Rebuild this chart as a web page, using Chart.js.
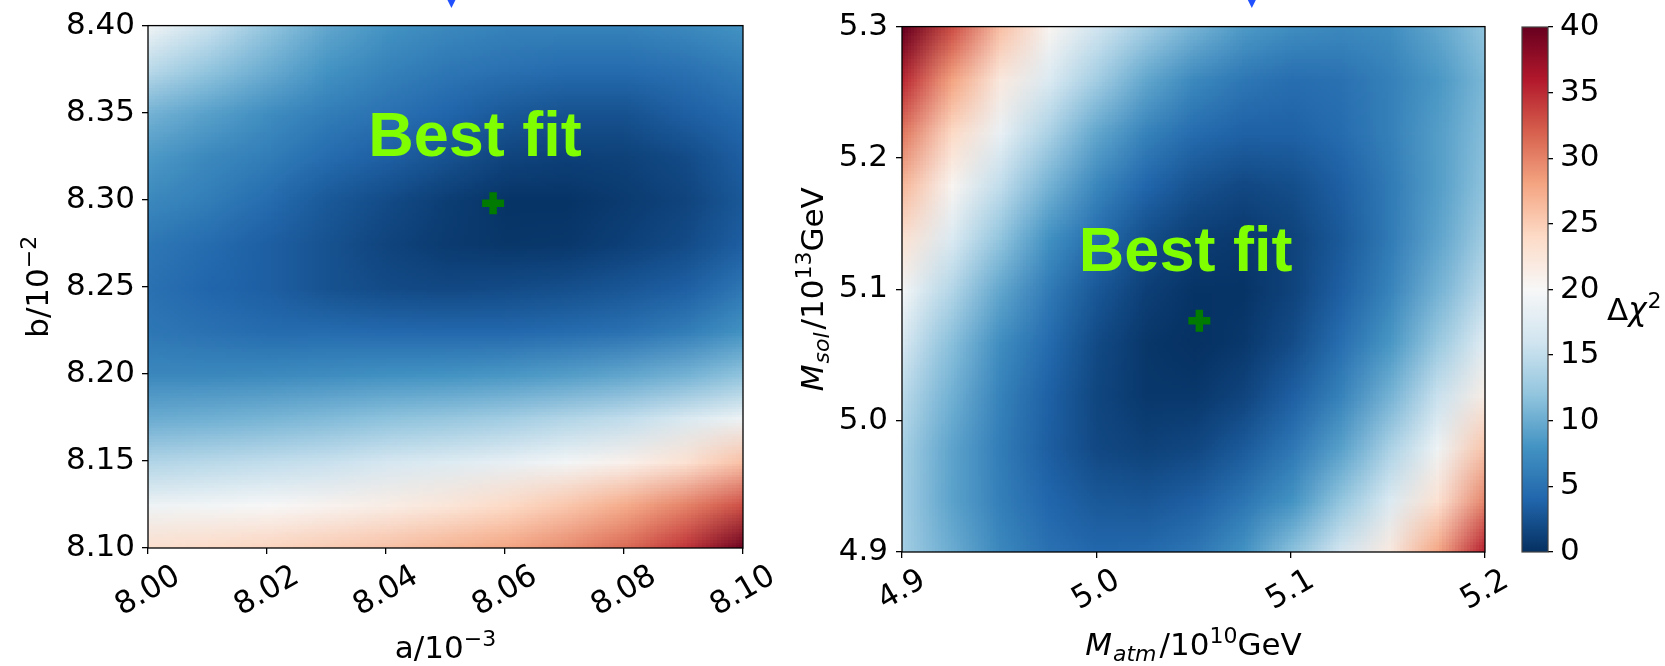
<!DOCTYPE html>
<html><head><meta charset="utf-8">
<script src="https://cdn.jsdelivr.net/npm/chart.js@4.4.1/dist/chart.umd.min.js"></script>
<style>
html,body{margin:0;padding:0;background:#fff;width:1665px;height:666px;overflow:hidden;}
canvas{position:absolute;left:0;top:0;}
</style></head><body>
<canvas id="c1" width="1665" height="666"></canvas>
<canvas id="c2" width="1665" height="666"></canvas>
<canvas id="c3" width="1665" height="666"></canvas>
<script>
// ---------------- data ----------------
// Left panel: Δχ² over a/10^-3 (columns) and b/10^-2 (rows, top to bottom)
const leftA = [8.00, 8.01, 8.02, 8.03, 8.04, 8.05, 8.06, 8.07, 8.08, 8.09, 8.10];
const leftB = [8.400, 8.375, 8.350, 8.325, 8.300, 8.275, 8.250, 8.225, 8.200, 8.175, 8.150, 8.125, 8.100];
const leftChi2 = [
  [19, 15.5, 12, 9.5, 8, 7, 6.5, 6.5, 6.5, 7, 8],
  [14.5, 12, 10, 8, 6.5, 5.5, 5, 4.5, 4.5, 5, 6],
  [10.5, 9, 7.5, 6, 5, 4, 3, 2.5, 2.5, 3.5, 4.5],
  [8.5, 7, 6, 4.5, 3.5, 2.5, 1.5, 1.2, 1.3, 2, 3.5],
  [7, 6, 4.5, 3, 2, 1, 0.3, 0.3, 0.8, 1.5, 3],
  [5.5, 4.5, 3.5, 2.5, 1.5, 0.8, 0.5, 0.6, 1.2, 2, 3.5],
  [5, 4, 3.5, 2.5, 2, 1.8, 2, 2.3, 2.8, 3.5, 5.5],
  [5.5, 5, 4.5, 4.5, 4.3, 4.2, 4.2, 4.5, 5, 6, 8],
  [7, 7, 7.2, 7.5, 7.8, 8, 8.3, 8.8, 9.5, 10.5, 12],
  [10, 10.3, 10.7, 11.2, 11.8, 12.3, 13, 14, 15, 16.8, 19],
  [14, 14.5, 15, 15.5, 16.5, 17.3, 18.3, 19.5, 21, 23, 26],
  [19, 19.5, 20, 20.7, 21.5, 22.5, 24, 25.5, 27.5, 30, 33],
  [23.5, 24, 24.5, 25.2, 26, 27, 28, 29.5, 31.5, 34.5, 40]
];
const leftBestFit = [8.058, 8.298];
const leftXTicks = [8.00, 8.02, 8.04, 8.06, 8.08, 8.10];
const leftYTicks = [8.10, 8.15, 8.20, 8.25, 8.30, 8.35, 8.40];
const leftTopMark = [8.051];

// Right panel: Δχ² over M_atm/10^10 GeV (columns) and M_sol/10^13 GeV (rows, top to bottom)
const rightX = [4.900, 4.925, 4.950, 4.975, 5.000, 5.025, 5.050, 5.075, 5.100, 5.125, 5.150, 5.175, 5.200];
const rightY = [5.30, 5.26, 5.22, 5.18, 5.14, 5.10, 5.06, 5.02, 4.98, 4.94, 4.90];
const rightChi2 = [
  [42, 33, 26, 20.5, 16, 13, 10.5, 8.5, 7.5, 7, 7.5, 9.5, 12],
  [35, 28, 22, 17, 13, 9.5, 7, 5.5, 4.7, 5, 6.3, 8.3, 11],
  [30.5, 24, 18.5, 13.5, 9.5, 6.5, 4.5, 3.7, 3.7, 4.5, 6.3, 8.8, 11.5],
  [26.5, 20.5, 15, 10.5, 6.8, 4, 2.5, 1.8, 2.2, 3.5, 5.8, 8.8, 12],
  [23, 17, 12, 7.8, 4.5, 2.2, 1, 0.7, 1.4, 3, 5.8, 9.3, 13.2],
  [19.5, 14, 9.5, 5.8, 2.9, 1.1, 0.3, 0.3, 1.4, 3.5, 6.6, 10.5, 15],
  [16.5, 11.5, 7.5, 4.4, 1.9, 0.5, 0.1, 0.6, 2.1, 4.7, 8.2, 12.5, 18],
  [14.5, 10.3, 6.5, 3.6, 1.6, 0.6, 0.6, 1.5, 3.5, 6.5, 10.5, 15.5, 21.5],
  [13.2, 9.3, 6, 3.4, 1.8, 1.3, 1.7, 3.1, 5.5, 9, 13.5, 19, 25.8],
  [13, 9.2, 6.2, 4, 3, 2.8, 3.5, 5.3, 8, 12, 17, 23, 30],
  [13, 10, 7, 5, 4.2, 4.4, 5.5, 8, 11.8, 16.5, 22, 28, 36]
];
const rightBestFit = [5.053, 5.076];
const rightXTicks = [4.9, 5.0, 5.1, 5.2];
const rightYTicks = [4.9, 5.0, 5.1, 5.2, 5.3];
const rightTopMark = [5.08];

// Colour bar
const cbTicks = [0, 5, 10, 15, 20, 25, 30, 35, 40];

// ---------------- colormap (RdBu_r) ----------------
const RDBU_R = [[5,48,97],[33,102,172],[67,147,195],[146,197,222],[209,229,240],[247,247,247],[253,219,199],[244,165,130],[214,96,77],[178,24,43],[103,0,31]];
const VMIN = cbTicks[0], VMAX = cbTicks[cbTicks.length - 1];
function cmapRGB(v) {
  const t = Math.max(0, Math.min(1, (v - VMIN) / (VMAX - VMIN))) * 10;
  const i = Math.min(9, Math.floor(t)), f = t - i;
  const a = RDBU_R[i], b = RDBU_R[i + 1];
  return [a[0] + (b[0] - a[0]) * f, a[1] + (b[1] - a[1]) * f, a[2] + (b[2] - a[2]) * f];
}

// ---------------- helpers ----------------
const FAM = "'DejaVu Sans'";
function fnt(size, italic, bold, fam) {
  return (italic ? 'italic ' : '') + (bold ? 'bold ' : '') + size + 'px ' + (fam || FAM);
}
function drawRich(ctx, segs, x, y, rot, align) {
  ctx.save();
  ctx.translate(x, y);
  ctx.rotate(rot);
  ctx.fillStyle = '#000';
  ctx.textAlign = 'left';
  ctx.textBaseline = 'alphabetic';
  const w = segs.map(s => { ctx.font = fnt(s.s, s.it); return ctx.measureText(s.t).width + (s.gap || 0); });
  const total = w.reduce((p, q) => p + q, 0);
  let cx = align === 'center' ? -total / 2 : 0;
  segs.forEach((s, i) => { ctx.font = fnt(s.s, s.it); ctx.fillText(s.t, cx, s.dy || 0); cx += w[i]; });
  ctx.restore();
}

function heatPlugin(xs, ys, z) {
  return {
    id: 'heat',
    beforeDatasetsDraw(chart) {
      const sx = chart.scales.x, sy = chart.scales.y, ca = chart.chartArea, ctx = chart.ctx;
      const nx = xs.length, ny = ys.length;
      const off = document.createElement('canvas');
      off.width = nx; off.height = ny;
      const o = off.getContext('2d');
      const img = o.createImageData(nx, ny);
      for (let j = 0; j < ny; j++) for (let i = 0; i < nx; i++) {
        const c = cmapRGB(z[j][i]); const k = (j * nx + i) * 4;
        img.data[k] = Math.round(c[0]); img.data[k + 1] = Math.round(c[1]); img.data[k + 2] = Math.round(c[2]); img.data[k + 3] = 255;
      }
      o.putImageData(img, 0, 0);
      const x0 = sx.getPixelForValue(xs[0]), x1 = sx.getPixelForValue(xs[nx - 1]);
      const y0 = sy.getPixelForValue(ys[0]), y1 = sy.getPixelForValue(ys[ny - 1]);
      const cw = (x1 - x0) / (nx - 1), chh = (y1 - y0) / (ny - 1);
      ctx.save();
      ctx.beginPath(); ctx.rect(ca.left, ca.top, ca.width, ca.height); ctx.clip();
      ctx.imageSmoothingEnabled = true;
      ctx.imageSmoothingQuality = 'low';
      ctx.drawImage(off, x0 - cw / 2, y0 - chh / 2, cw * nx, chh * ny);
      ctx.restore();
    }
  };
}

function decorPlugin(cfg) {
  return {
    id: 'decor',
    afterDraw(chart) {
      const ctx = chart.ctx, sx = chart.scales.x, sy = chart.scales.y, ca = chart.chartArea;
      // frame
      ctx.save();
      ctx.strokeStyle = '#000'; ctx.lineWidth = 1.3;
      ctx.strokeRect(ca.left, ca.top, ca.width, ca.height);
      ctx.restore();
      // rotated x tick labels, centred on their ticks
      ctx.save();
      ctx.fillStyle = '#000'; ctx.font = fnt(31);
      ctx.textAlign = 'center'; ctx.textBaseline = 'middle';
      sx.ticks.forEach(t => {
        const px = sx.getPixelForValue(t.value);
        ctx.save(); ctx.translate(px, ca.bottom + cfg.xLabelOffset); ctx.rotate(-Math.PI / 6);
        ctx.fillText(cfg.xFmt(t.value), 0, 0); ctx.restore();
      });
      ctx.restore();
      // axis titles
      drawRich(ctx, cfg.xTitle, (ca.left + ca.right) / 2, cfg.xTitleBaseline, 0, 'center');
      drawRich(ctx, cfg.yTitle, cfg.yTitleBaseline, (ca.top + ca.bottom) / 2, -Math.PI / 2, 'center');
      // "Best fit" annotation
      ctx.save();
      ctx.font = "bold 63px 'Liberation Sans'"; ctx.fillStyle = '#7fff00';
      ctx.textAlign = 'left'; ctx.textBaseline = 'alphabetic';
      ctx.fillText('Best fit', sx.getPixelForValue(cfg.labelAt[0]), sy.getPixelForValue(cfg.labelAt[1]));
      ctx.restore();
      // small blue marker above the frame
      ctx.save();
      ctx.fillStyle = '#2050ff';
      cfg.topMark.forEach(v => {
        const px = sx.getPixelForValue(v);
        ctx.beginPath(); ctx.moveTo(px - 4.5, -1); ctx.lineTo(px + 4.5, -1); ctx.lineTo(px, 8); ctx.closePath(); ctx.fill();
      });
      ctx.restore();
    }
  };
}

function axis(ticksArr, fmt, showLabels, pad, fitFn) {
  return {
    type: 'linear',
    min: ticksArr[0], max: ticksArr[ticksArr.length - 1],
    afterBuildTicks: s => { s.ticks = ticksArr.map(v => ({ value: v })); },
    afterFit: fitFn,
    ticks: { display: showLabels, callback: v => fmt(v), font: { family: 'DejaVu Sans', size: 31 }, color: '#000', padding: pad, autoSkip: false, maxRotation: 0, minRotation: 0 },
    grid: { drawOnChartArea: false, drawTicks: true, tickLength: 6, color: '#000', lineWidth: 1.3 },
    border: { display: false }
  };
}

Chart.defaults.font.family = 'DejaVu Sans';
Chart.defaults.animation = false;

const f2 = v => v.toFixed(2), f1 = v => v.toFixed(1);

function bestFitDataset(p) {
  return {
    type: 'scatter',
    data: [{ x: p[0], y: p[1] }],
    pointStyle: 'cross', pointRadius: 11, pointHoverRadius: 11,
    pointBorderWidth: 7.5, pointHoverBorderWidth: 7.5,
    borderColor: '#007a00', backgroundColor: '#007a00'
  };
}

const baseOpts = {
  responsive: false, devicePixelRatio: 1, animation: false,
  events: [],
  plugins: { legend: { display: false }, tooltip: { enabled: false } }
};

// Left panel
new Chart(document.getElementById('c1'), {
  type: 'scatter',
  data: { datasets: [bestFitDataset(leftBestFit)] },
  options: Object.assign({}, baseOpts, {
    layout: { autoPadding: false, padding: { left: 0, top: 24, right: 922, bottom: 0 } },
    scales: {
      x: axis(leftXTicks, f2, false, 4, s => { s.height = 118; }),
      y: axis(leftYTicks, f2, true, 7, s => { s.width = 148; })
    }
  }),
  plugins: [heatPlugin(leftA, leftB, leftChi2), decorPlugin({
    xFmt: f2, xLabelOffset: 43.5,
    xTitle: [{ t: 'a/10', s: 31 }, { t: '\u22123', s: 22, dy: -12 }],
    xTitleBaseline: 658,
    yTitle: [{ t: 'b/10', s: 31 }, { t: '\u22122', s: 22, dy: -12 }],
    yTitleBaseline: 48,
    labelAt: [8.037, 8.325],
    topMark: leftTopMark
  })]
});

// Right panel
new Chart(document.getElementById('c2'), {
  type: 'scatter',
  data: { datasets: [bestFitDataset(rightBestFit)] },
  options: Object.assign({}, baseOpts, {
    layout: { autoPadding: false, padding: { left: 700, top: 26, right: 180, bottom: 0 } },
    scales: {
      x: axis(rightXTicks, f1, false, 4, s => { s.height = 114; }),
      y: axis(rightYTicks, f1, true, 8, s => { s.width = 202; })
    }
  }),
  plugins: [heatPlugin(rightX, rightY, rightChi2), decorPlugin({
    xFmt: f1, xLabelOffset: 38.5,
    xTitle: [{ t: 'M', s: 31, it: true, gap: 1 }, { t: 'atm', s: 22, it: true, dy: 6, gap: 3 }, { t: '/10', s: 31 }, { t: '10', s: 22, dy: -12 }, { t: 'GeV', s: 31 }],
    xTitleBaseline: 655,
    yTitle: [{ t: 'M', s: 31, it: true, gap: 1 }, { t: 'sol', s: 22, it: true, dy: 6, gap: 3 }, { t: '/10', s: 31 }, { t: '13', s: 22, dy: -12 }, { t: 'GeV', s: 31 }],
    yTitleBaseline: 823,
    labelAt: [4.991, 5.114],
    topMark: rightTopMark
  })]
});

// Colour bar
const cbPlugin = {
  id: 'cbar',
  beforeDatasetsDraw(chart) {
    const ca = chart.chartArea, sy = chart.scales.y, ctx = chart.ctx;
    const yb = sy.getPixelForValue(VMIN), yt = sy.getPixelForValue(VMAX);
    const g = ctx.createLinearGradient(0, yb, 0, yt);
    RDBU_R.forEach((c, i) => g.addColorStop(i / 10, 'rgb(' + c.join(',') + ')'));
    ctx.save();
    ctx.fillStyle = g;
    ctx.fillRect(ca.left, yt, ca.width, yb - yt);
    ctx.strokeStyle = '#444'; ctx.lineWidth = 1.2;
    ctx.strokeRect(ca.left, yt, ca.width, yb - yt);
    ctx.restore();
  },
  afterDraw(chart) {
    drawRich(chart.ctx, [{ t: '\u0394', s: 31 }, { t: '\u03c7', s: 31, it: true, gap: 1 }, { t: '2', s: 22, dy: -12 }], 1607, 320, 0, 'left');
  }
};
const cbY = axis(cbTicks, v => String(v), true, 7, s => { s.width = 117; });
cbY.position = 'right';
cbY.grid.tickLength = 5;
new Chart(document.getElementById('c3'), {
  type: 'scatter',
  data: { datasets: [] },
  options: Object.assign({}, baseOpts, {
    layout: { autoPadding: false, padding: { left: 1522, top: 27, right: 0, bottom: 114 } },
    scales: {
      x: { type: 'linear', display: false, min: 0, max: 1 },
      y: cbY
    }
  }),
  plugins: [cbPlugin]
});
</script>
</body></html>
